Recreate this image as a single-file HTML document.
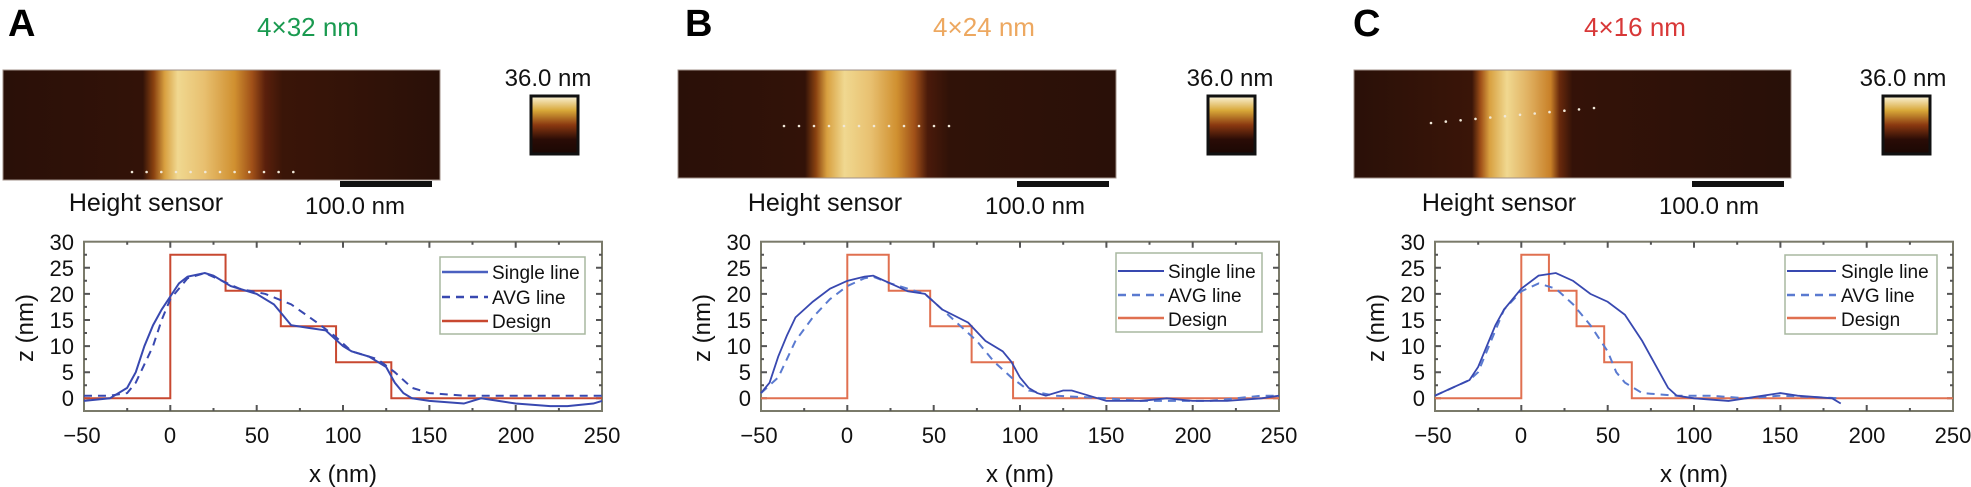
<!DOCTYPE html>
<html><head><meta charset="utf-8"><style>
html,body{margin:0;padding:0;background:#fff;width:1971px;height:487px;overflow:hidden}
svg{display:block}
text{font-family:"Liberation Sans",Arial,sans-serif}
.t{font-size:22px;fill:#111}
.al{font-size:24px;fill:#111}
.lg{font-size:19px;fill:#111}
.hs{font-size:25px;fill:#111}
.sb{font-size:24px;fill:#111}
.ti{font-size:26px}
.ns{vector-effect:non-scaling-stroke;fill:none}
</style></head><body>
<svg width="1971" height="487" viewBox="0 0 1971 487" xmlns="http://www.w3.org/2000/svg">
<defs>
<linearGradient id="gA" x1="0" x2="1" y1="0" y2="0">
<stop offset="0" stop-color="#2a1008"/><stop offset="0.32" stop-color="#321208"/><stop offset="0.345" stop-color="#8a4210"/><stop offset="0.37" stop-color="#d8a040"/><stop offset="0.40" stop-color="#f0d890"/><stop offset="0.46" stop-color="#e8c070"/><stop offset="0.53" stop-color="#d09030"/><stop offset="0.57" stop-color="#a05018"/><stop offset="0.60" stop-color="#5a200c"/><stop offset="0.64" stop-color="#3a1508"/><stop offset="1" stop-color="#2a1008"/>
</linearGradient>
<linearGradient id="gB" x1="0" x2="1" y1="0" y2="0">
<stop offset="0" stop-color="#2a1008"/><stop offset="0.29" stop-color="#321208"/><stop offset="0.315" stop-color="#8a4210"/><stop offset="0.34" stop-color="#d8a040"/><stop offset="0.38" stop-color="#f0d890"/><stop offset="0.44" stop-color="#e8c070"/><stop offset="0.50" stop-color="#d09030"/><stop offset="0.54" stop-color="#a05018"/><stop offset="0.57" stop-color="#4a1a0a"/><stop offset="0.62" stop-color="#301208"/><stop offset="1" stop-color="#2a1008"/>
</linearGradient>
<linearGradient id="gC" x1="0" x2="1" y1="0" y2="0">
<stop offset="0" stop-color="#2a1008"/><stop offset="0.27" stop-color="#3a1508"/><stop offset="0.29" stop-color="#a05018"/><stop offset="0.31" stop-color="#d8a040"/><stop offset="0.35" stop-color="#f0d890"/><stop offset="0.40" stop-color="#e0b060"/><stop offset="0.45" stop-color="#c88028"/><stop offset="0.47" stop-color="#6a2a0c"/><stop offset="0.50" stop-color="#341208"/><stop offset="1" stop-color="#281008"/>
</linearGradient>
<linearGradient id="cb" x1="0" x2="0" y1="0" y2="1">
<stop offset="0" stop-color="#fbf5dc"/><stop offset="0.25" stop-color="#d8a838"/><stop offset="0.5" stop-color="#8a3810"/><stop offset="0.75" stop-color="#2a0c06"/><stop offset="1" stop-color="#1a0804"/>
</linearGradient>
</defs>

<!-- ============ PANEL A ============ -->
<g transform="translate(0,0)">
<text x="8" y="36" style="font-size:38px;font-weight:bold" fill="#000">A</text>
<text x="308" y="36" text-anchor="middle" class="ti" fill="#1a9a50">4×32 nm</text>
<rect x="3" y="70" width="437" height="110" fill="url(#gA)" stroke="#a09088" stroke-width="1"/>
<g fill="#f0e8d8"><circle cx="132" cy="172" r="1.3"/><circle cx="146.6" cy="172" r="1.3"/><circle cx="161.3" cy="172" r="1.3"/><circle cx="176" cy="172" r="1.3"/><circle cx="190.6" cy="172" r="1.3"/><circle cx="205.3" cy="172" r="1.3"/><circle cx="220" cy="172" r="1.3"/><circle cx="234.6" cy="172" r="1.3"/><circle cx="249.3" cy="172" r="1.3"/><circle cx="264" cy="172" r="1.3"/><circle cx="278.6" cy="172" r="1.3"/><circle cx="293.3" cy="172" r="1.3"/></g>
<rect x="340" y="181" width="92" height="6" fill="#111"/>
<text x="146" y="211" text-anchor="middle" class="hs">Height sensor</text>
<text x="355" y="214" text-anchor="middle" class="sb">100.0 nm</text>
<text x="548" y="86" text-anchor="middle" class="sb">36.0 nm</text>
<rect x="531" y="96" width="47" height="58" fill="url(#cb)" stroke="#111" stroke-width="3"/>
</g>

<!-- ============ PANEL B ============ -->
<g transform="translate(677,0)">
<text x="8" y="36" style="font-size:38px;font-weight:bold" fill="#000">B</text>
<text x="307" y="36" text-anchor="middle" class="ti" fill="#eda860">4×24 nm</text>
<rect x="1" y="70" width="438" height="108" fill="url(#gB)" stroke="#a09088" stroke-width="1"/>
<g fill="#f0e8d8"><circle cx="107" cy="126" r="1.3"/><circle cx="122" cy="126" r="1.3"/><circle cx="137" cy="126" r="1.3"/><circle cx="152" cy="126" r="1.3"/><circle cx="167" cy="126" r="1.3"/><circle cx="182" cy="126" r="1.3"/><circle cx="197" cy="126" r="1.3"/><circle cx="212" cy="126" r="1.3"/><circle cx="227" cy="126" r="1.3"/><circle cx="242" cy="126" r="1.3"/><circle cx="257" cy="126" r="1.3"/><circle cx="272" cy="126" r="1.3"/></g>
<rect x="340" y="181" width="92" height="6" fill="#111"/>
<text x="148" y="211" text-anchor="middle" class="hs">Height sensor</text>
<text x="358" y="214" text-anchor="middle" class="sb">100.0 nm</text>
<text x="553" y="86" text-anchor="middle" class="sb">36.0 nm</text>
<rect x="531" y="96" width="47" height="58" fill="url(#cb)" stroke="#111" stroke-width="3"/>
</g>

<!-- ============ PANEL C ============ -->
<g transform="translate(1351,0)">
<text x="2" y="36" style="font-size:38px;font-weight:bold" fill="#000">C</text>
<text x="284" y="36" text-anchor="middle" class="ti" fill="#d83838">4×16 nm</text>
<rect x="3" y="70" width="437" height="108" fill="url(#gC)" stroke="#a09088" stroke-width="1"/>
<g fill="#f0e8d8"><circle cx="80" cy="123" r="1.3"/><circle cx="94.8" cy="121.6" r="1.3"/><circle cx="109.6" cy="120.3" r="1.3"/><circle cx="124.5" cy="118.9" r="1.3"/><circle cx="139.3" cy="117.5" r="1.3"/><circle cx="154" cy="116.2" r="1.3"/><circle cx="169" cy="114.8" r="1.3"/><circle cx="183.7" cy="113.5" r="1.3"/><circle cx="198.5" cy="112.1" r="1.3"/><circle cx="213.4" cy="110.7" r="1.3"/><circle cx="228" cy="109.4" r="1.3"/><circle cx="243" cy="108" r="1.3"/></g>
<rect x="341" y="181" width="92" height="6" fill="#111"/>
<text x="148" y="211" text-anchor="middle" class="hs">Height sensor</text>
<text x="358" y="214" text-anchor="middle" class="sb">100.0 nm</text>
<text x="552" y="86" text-anchor="middle" class="sb">36.0 nm</text>
<rect x="532" y="96" width="47" height="58" fill="url(#cb)" stroke="#111" stroke-width="3"/>
</g>

<!-- axes A -->
<g transform="translate(0,0)">
<rect x="84" y="241.7" width="518" height="169.3" fill="none" stroke="#7a7a6a" stroke-width="2"/>
<path d="M170.3,411v-6M256.7,411v-6M343,411v-6M429.4,411v-6M515.7,411v-6M127.2,411v-3M213.5,411v-3M299.9,411v-3M386.2,411v-3M472.5,411v-3M558.9,411v-3M170.3,241.7v6M256.7,241.7v6M343,241.7v6M429.4,241.7v6M515.7,241.7v6M127.2,241.7v3M213.5,241.7v3M299.9,241.7v3M386.2,241.7v3M472.5,241.7v3M558.9,241.7v3M84,398.3h6M84,372.2h6M84,346.1h6M84,320h6M84,293.9h6M84,267.8h6M84,385.2h3M84,359.1h3M84,333h3M84,306.9h3M84,280.8h3M84,254.7h3M602,398.3h-6M602,372.2h-6M602,346.1h-6M602,320h-6M602,293.9h-6M602,267.8h-6M602,385.2h-3M602,359.1h-3M602,333h-3M602,306.9h-3M602,280.8h-3M602,254.7h-3" stroke="#555" stroke-width="2"/>
<g class="t" text-anchor="end"><text x="74" y="406">0</text><text x="74" y="380">5</text><text x="74" y="354">10</text><text x="74" y="328">15</text><text x="74" y="302">20</text><text x="74" y="276">25</text><text x="74" y="250">30</text></g>
<g class="t" text-anchor="middle"><text x="82" y="443">−50</text><text x="170" y="443">0</text><text x="257" y="443">50</text><text x="343" y="443">100</text><text x="429" y="443">150</text><text x="516" y="443">200</text><text x="602" y="443">250</text></g>
<text class="al" x="343" y="482" text-anchor="middle">x (nm)</text>
<text class="al" transform="translate(33,328) rotate(-90)" text-anchor="middle">z (nm)</text>
<g transform="translate(170.3,398.3) scale(1.7267,-5.22)">
<polyline class="ns" stroke="#c84830" stroke-width="2" points="-50,0 0,0 0,27.5 32,27.5 32,20.6 64,20.6 64,13.8 96,13.8 96,6.9 128,6.9 128,0 250,0"/>
<polyline class="ns" stroke="#3848b0" stroke-width="2" stroke-dasharray="8,6" points="-50,0.5 -35,0.5 -25,1 -20,3 -10,10 -5,15 0,19 10,23 20,24 30,22.5 40,21 55,20 70,18 85,14.5 95,12 105,9 120,7.5 130,5 140,2 150,1 170,0.5 250,0.5"/>
<polyline class="ns" stroke="#3848b0" stroke-width="2" points="-50,-0.5 -35,0 -25,2 -20,5 -15,10 -10,14 -5,17 0,19.5 5,22 10,23.3 20,24 25,23.5 35,21.5 50,20 60,18 65,16 70,14 80,13.5 90,13 100,10 105,9 115,8 125,6 130,3 135,1 140,0 150,-0.5 170,-1 180,0 190,-0.5 200,-1 220,-1.5 230,-1.5 245,-1 250,-0.5"/>
</g>
<rect x="440" y="257" width="145" height="77" fill="#fff" stroke="#a8b8a0" stroke-width="1.5"/>
<line x1="442" y1="272" x2="488" y2="272" stroke="#4a60c0" stroke-width="2.5"/>
<line x1="442" y1="297" x2="488" y2="297" stroke="#3848b0" stroke-width="2.5" stroke-dasharray="8,6"/>
<line x1="442" y1="321" x2="488" y2="321" stroke="#c84830" stroke-width="2.5"/>
<g class="lg"><text x="492" y="279">Single line</text><text x="492" y="304">AVG line</text><text x="492" y="328">Design</text></g>
</g>

<!-- axes B -->
<g transform="translate(677,0)">
<rect x="84" y="241.7" width="518" height="169.3" fill="none" stroke="#7a7a6a" stroke-width="2"/>
<path d="M170.3,411v-6M256.7,411v-6M343,411v-6M429.4,411v-6M515.7,411v-6M127.2,411v-3M213.5,411v-3M299.9,411v-3M386.2,411v-3M472.5,411v-3M558.9,411v-3M170.3,241.7v6M256.7,241.7v6M343,241.7v6M429.4,241.7v6M515.7,241.7v6M127.2,241.7v3M213.5,241.7v3M299.9,241.7v3M386.2,241.7v3M472.5,241.7v3M558.9,241.7v3M84,398.3h6M84,372.2h6M84,346.1h6M84,320h6M84,293.9h6M84,267.8h6M84,385.2h3M84,359.1h3M84,333h3M84,306.9h3M84,280.8h3M84,254.7h3M602,398.3h-6M602,372.2h-6M602,346.1h-6M602,320h-6M602,293.9h-6M602,267.8h-6M602,385.2h-3M602,359.1h-3M602,333h-3M602,306.9h-3M602,280.8h-3M602,254.7h-3" stroke="#555" stroke-width="2"/>
<g class="t" text-anchor="end"><text x="74" y="406">0</text><text x="74" y="380">5</text><text x="74" y="354">10</text><text x="74" y="328">15</text><text x="74" y="302">20</text><text x="74" y="276">25</text><text x="74" y="250">30</text></g>
<g class="t" text-anchor="middle"><text x="82" y="443">−50</text><text x="170" y="443">0</text><text x="257" y="443">50</text><text x="343" y="443">100</text><text x="429" y="443">150</text><text x="516" y="443">200</text><text x="602" y="443">250</text></g>
<text class="al" x="343" y="482" text-anchor="middle">x (nm)</text>
<text class="al" transform="translate(33,328) rotate(-90)" text-anchor="middle">z (nm)</text>
<g transform="translate(170.3,398.3) scale(1.7267,-5.22)">
<polyline class="ns" stroke="#e07050" stroke-width="2" points="-50,0 0,0 0,27.5 24,27.5 24,20.6 48,20.6 48,13.8 72,13.8 72,6.9 96,6.9 96,0 250,0"/>
<polyline class="ns" stroke="#5a7ad0" stroke-width="2" stroke-dasharray="8,6" points="-50,1 -40,4 -30,11 -20,15.5 -10,19 0,21.5 10,23 15,23.3 25,22 45,20 55,17 65,14 75,11 85,7 95,4 105,1.5 120,0.5 150,0 170,-0.5 210,-0.5 240,0.5 250,0.5"/>
<polyline class="ns" stroke="#3848b0" stroke-width="1.8" points="-50,1 -45,3 -40,8 -35,12 -30,15.5 -20,18.5 -10,21 0,22.5 10,23.3 15,23.5 25,22 35,20.5 45,20 55,17 70,14.5 80,11 90,9 95,7 100,4 105,2 110,1 115,0.5 125,1.5 130,1.5 140,0.5 150,-0.5 170,-0.5 185,0 200,-0.5 220,-0.5 240,0 250,0.5"/>
</g>
<rect x="439" y="253" width="146" height="79" fill="#fff" stroke="#a8b8a0" stroke-width="1.5"/>
<line x1="441" y1="271" x2="487" y2="271" stroke="#3848b0" stroke-width="2"/>
<line x1="441" y1="295" x2="487" y2="295" stroke="#5a7ad0" stroke-width="2.5" stroke-dasharray="8,6"/>
<line x1="441" y1="318" x2="487" y2="318" stroke="#e07050" stroke-width="2.5"/>
<g class="lg"><text x="491" y="278">Single line</text><text x="491" y="302">AVG line</text><text x="491" y="326">Design</text></g>
</g>

<!-- axes C -->
<g transform="translate(1351,0)">
<rect x="84" y="241.7" width="518" height="169.3" fill="none" stroke="#7a7a6a" stroke-width="2"/>
<path d="M170.3,411v-6M256.7,411v-6M343,411v-6M429.4,411v-6M515.7,411v-6M127.2,411v-3M213.5,411v-3M299.9,411v-3M386.2,411v-3M472.5,411v-3M558.9,411v-3M170.3,241.7v6M256.7,241.7v6M343,241.7v6M429.4,241.7v6M515.7,241.7v6M127.2,241.7v3M213.5,241.7v3M299.9,241.7v3M386.2,241.7v3M472.5,241.7v3M558.9,241.7v3M84,398.3h6M84,372.2h6M84,346.1h6M84,320h6M84,293.9h6M84,267.8h6M84,385.2h3M84,359.1h3M84,333h3M84,306.9h3M84,280.8h3M84,254.7h3M602,398.3h-6M602,372.2h-6M602,346.1h-6M602,320h-6M602,293.9h-6M602,267.8h-6M602,385.2h-3M602,359.1h-3M602,333h-3M602,306.9h-3M602,280.8h-3M602,254.7h-3" stroke="#555" stroke-width="2"/>
<g class="t" text-anchor="end"><text x="74" y="406">0</text><text x="74" y="380">5</text><text x="74" y="354">10</text><text x="74" y="328">15</text><text x="74" y="302">20</text><text x="74" y="276">25</text><text x="74" y="250">30</text></g>
<g class="t" text-anchor="middle"><text x="82" y="443">−50</text><text x="170" y="443">0</text><text x="257" y="443">50</text><text x="343" y="443">100</text><text x="429" y="443">150</text><text x="516" y="443">200</text><text x="602" y="443">250</text></g>
<text class="al" x="343" y="482" text-anchor="middle">x (nm)</text>
<text class="al" transform="translate(33,328) rotate(-90)" text-anchor="middle">z (nm)</text>
<g transform="translate(170.3,398.3) scale(1.7267,-5.22)">
<polyline class="ns" stroke="#e07050" stroke-width="2" points="-50,0 0,0 0,27.5 16,27.5 16,20.6 32,20.6 32,13.8 48,13.8 48,6.9 64,6.9 64,0 250,0"/>
<polyline class="ns" stroke="#5a7ad0" stroke-width="2" stroke-dasharray="8,6" points="-50,0.5 -30,3.5 -25,5 -20,9 -15,13 -10,17 0,20.5 10,22 20,21 30,18 40,14 50,9 55,5 60,3 70,1 90,0.5 110,0.5 130,0 150,0.5 185,0"/>
<polyline class="ns" stroke="#3848b0" stroke-width="1.8" points="-50,0.5 -40,2 -30,3.5 -25,6 -20,10 -15,14 -10,17 0,21 10,23.5 20,24 30,22.5 40,20 50,18.5 60,16 70,11 80,5 85,2 90,0.5 100,0 120,-0.5 140,0.5 150,1 160,0.5 180,0 185,-1"/>
</g>
<rect x="434" y="255" width="152" height="79" fill="#fff" stroke="#a8b8a0" stroke-width="1.5"/>
<line x1="436" y1="271" x2="485" y2="271" stroke="#3848b0" stroke-width="2"/>
<line x1="436" y1="295" x2="485" y2="295" stroke="#5a7ad0" stroke-width="2.5" stroke-dasharray="8,6"/>
<line x1="436" y1="318" x2="485" y2="318" stroke="#e07050" stroke-width="2.5"/>
<g class="lg"><text x="490" y="278">Single line</text><text x="490" y="302">AVG line</text><text x="490" y="326">Design</text></g>
</g>
</svg>
</body></html>
